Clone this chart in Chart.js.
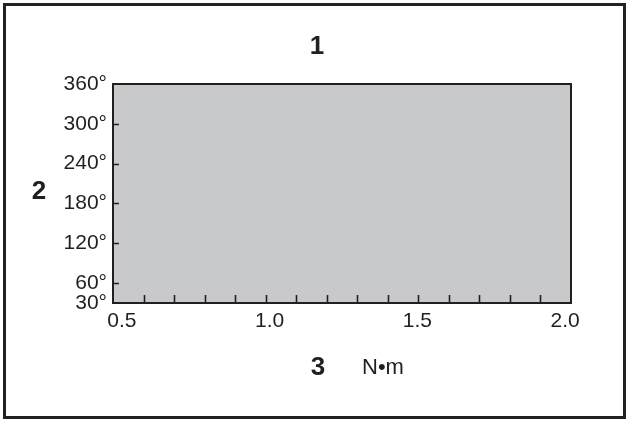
<!DOCTYPE html>
<html>
<head>
<meta charset="utf-8">
<script src="https://cdn.jsdelivr.net/npm/chart.js@4/dist/chart.umd.min.js"></script>
<style>
  html, body { margin: 0; padding: 0; background: #fff; }
  #wrap { width: 630px; height: 423px; position: relative; }
</style>
</head>
<body>
<div id="wrap"><canvas id="chart"></canvas></div>
<script>
// axis data
var xTicks = [0.5, 1.0, 1.5, 2.0]
var xRange = [0.47, 2.02]
var yTicks = [30, 60, 120, 180, 240, 300, 360]
var yRange = [30, 360]
var topLabel = "1"
var leftLabel = "2"
var bottomLabel = "3"
var unitLabel = "N•m"

var ink = "#231f20"
var fill = "#c8c9cb"
var minorCount = 15

// gray box, frame, inward ticks and the numbered labels
var decor = {
  id: 'decor',
  beforeDraw: function(chart) {
    var a = chart.chartArea
    var ctx = chart.ctx
    ctx.save()
    ctx.fillStyle = fill
    ctx.fillRect(a.left, a.top, a.right - a.left, a.bottom - a.top)
    ctx.restore()
  },
  afterDraw: function(chart) {
    var a = chart.chartArea
    var ctx = chart.ctx
    var ys = chart.scales.y
    ctx.save()
    ctx.strokeStyle = ink
    ctx.lineWidth = 2
    ctx.strokeRect(a.left, a.top, a.right - a.left, a.bottom - a.top)

    // y ticks pointing in
    ctx.lineWidth = 1.6
    ctx.beginPath()
    yTicks.forEach(function(v) {
      if (v === yRange[0] || v === yRange[1]) return
      var py = Math.round(ys.getPixelForValue(v)) + 0.5
      ctx.moveTo(a.left, py)
      ctx.lineTo(a.left + 6, py)
    })
    // x minor ticks pointing in
    var step = (a.right - a.left) / minorCount
    for (var k = 1; k < minorCount; k++) {
      var px = Math.round(a.left + k * step) + 0.5
      ctx.moveTo(px, a.bottom)
      ctx.lineTo(px, a.bottom - 8)
    }
    ctx.stroke()

    // outer frame
    ctx.lineWidth = 3
    ctx.strokeStyle = "#222"
    ctx.strokeRect(4.5, 4.5, 620, 413)

    ctx.fillStyle = ink
    ctx.textAlign = 'center'
    ctx.textBaseline = 'middle'
    ctx.font = "bold 26px 'Liberation Sans', Arial, sans-serif"
    ctx.fillText(topLabel, 317, 47)
    ctx.fillText(leftLabel, 39, 192)
    ctx.fillText(bottomLabel, 318, 368)
    ctx.font = "22px 'Liberation Sans', Arial, sans-serif"
    ctx.textAlign = 'left'
    ctx.fillText(unitLabel, 362, 368)
    ctx.restore()
  }
}

new Chart(document.getElementById('chart'), {
  type: 'scatter',
  data: { datasets: [{ data: [] }] },
  plugins: [decor],
  options: {
    responsive: true,
    maintainAspectRatio: false,
    animation: false,
    layout: { padding: { left: 0, top: 84, right: 59, bottom: 0 } },
    plugins: {
      legend: { display: false },
      tooltip: { enabled: false }
    },
    scales: {
      x: {
        type: 'linear',
        min: xRange[0],
        max: xRange[1],
        afterBuildTicks: function(scale) {
          scale.ticks = xTicks.map(function(v) { return { value: v } })
        },
        afterFit: function(scale) { scale.height = 120 },
        grid: { display: false, drawTicks: false },
        border: { display: false },
        ticks: {
          color: ink,
          padding: 6,
          maxRotation: 0,
          font: { family: "'Liberation Sans', Arial, sans-serif", size: 21 },
          callback: function(v) { return v.toFixed(1) }
        }
      },
      y: {
        type: 'linear',
        min: yRange[0],
        max: yRange[1],
        afterBuildTicks: function(scale) {
          scale.ticks = yTicks.map(function(v) { return { value: v } })
        },
        afterFit: function(scale) { scale.width = 113 },
        grid: { display: false, drawTicks: false },
        border: { display: false },
        ticks: {
          color: ink,
          padding: 6,
          font: { family: "'Liberation Sans', Arial, sans-serif", size: 21 },
          callback: function(v) { return v + '°' }
        }
      }
    }
  }
});
</script>
</body>
</html>
